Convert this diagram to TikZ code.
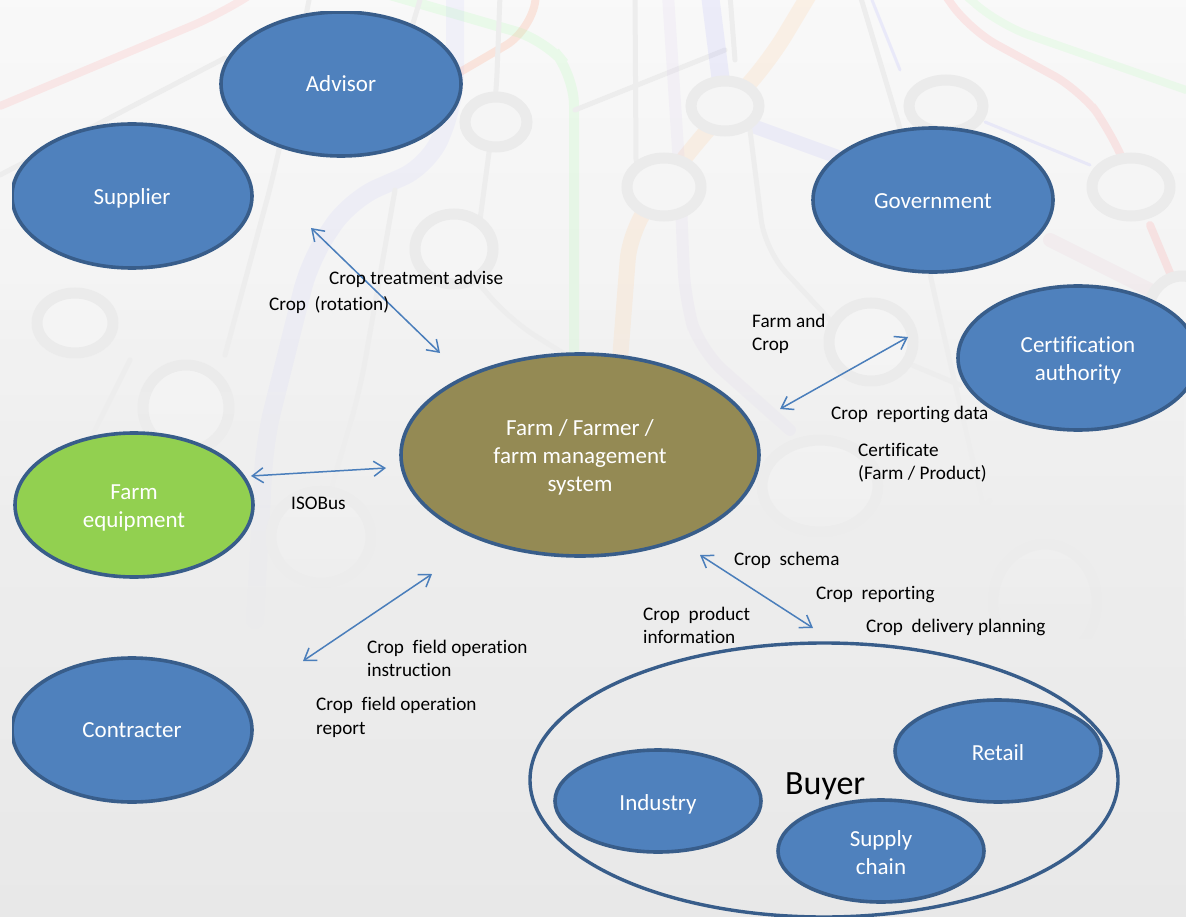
\documentclass[tikz,border=0pt]{standalone}
\usepackage{fontspec}
\setmainfont{Carlito}[RawFeature={-liga}]
\usetikzlibrary{shapes.geometric,arrows.meta,fadings}
\definecolor{blueF}{HTML}{4F81BD}
\definecolor{blueL}{HTML}{385D8A}
\definecolor{oliveF}{HTML}{948A54}
\definecolor{greenF}{HTML}{92D050}
\definecolor{arrowC}{HTML}{4A7EBB}
\newcommand\dn[2]{\raisebox{-#1pt}[\height][\depth]{#2}}
\tikzfading[name=fadeDown, top color=transparent!100, bottom color=transparent!0]
\tikzset{
  x=1pt,y=-1pt,
  oval/.style={ellipse,draw=blueL,line width=3.6pt,fill=blueF,text=white,inner sep=0pt,align=center,
    font=\fontsize{23}{28}\selectfont},
  big/.style={oval,minimum width=240pt,minimum height=144pt},
  small/.style={oval,minimum width=206pt,minimum height=102pt},
  dbl/.style={draw=arrowC,line width=1.5pt,{Straight Barb[length=11pt,width=15pt,line width=1.5pt]}-{Straight Barb[length=11pt,width=15pt,line width=1.5pt]}},
  lab/.style={anchor=base west,inner sep=0pt,text=black,font=\fontsize{19.2}{23}\selectfont},
  metro/.style={draw=black!7,line width=5pt,rounded corners=30pt,line cap=round},
  ring/.style={draw=black!8,fill=white!96!black,line width=11pt},
}
\begin{document}
\begin{tikzpicture}
\useasboundingbox (0,0) rectangle (1186,917);
\clip (0,0) rectangle (1186,917);
% background
\shade[top color=white!97.5!black,bottom color=white!91!black] (0,0) rectangle (1186,917);
% metro lines
\draw[metro,draw=red!35!white,opacity=.2,line width=8pt] (0,106) -- (220,14) -- (250,-5);
\draw[metro,draw=orange!50!red!45!white,opacity=.25,line width=8pt] (455,75) -- (532,30) -- (536,-5);
\draw[metro,draw=green!35!white,opacity=.18,line width=10pt] (390,-5) -- (545,40) -- (574,75) -- (574,400);
\draw[metro,draw=blue!35!white,opacity=.09,line width=18pt] (455,-5) -- (455,100) -- (430,165) -- (350,200) -- (310,260) -- (265,440) -- (255,620);
\draw[metro] (0,175) -- (225,58);
\draw[metro] (310,-5) -- (275,170) -- (225,355);
\draw[metro] (0,598) -- (140,445);
\draw[metro] (420,0) -- (405,50);
\draw[metro] (500,-5) -- (496,100) -- (480,220);
\draw[metro] (395,190) -- (360,390) -- (325,510);
\draw[metro] (480,285) -- (510,320) -- (574,360) -- (640,400);
\draw[metro] (635,-5) -- (636,160);
\draw[metro] (575,110) -- (725,50);
\draw[metro] (130,360) -- (30,560);
\draw[metro,draw=orange!40!white,opacity=.2,line width=16pt] (809,-5) -- (770,60) -- (690,150) -- (630,230) -- (620,360);
\draw[metro,draw=red!30!blue!30!white,opacity=.1,line width=12pt] (668,-5) -- (680,180) -- (685,300) -- (700,350) -- (790,430);
\draw[metro,draw=blue!50!white,opacity=.1,line width=18pt] (710,-5) -- (722,90);
\draw[metro,draw=blue!50!white,opacity=.09,line width=14pt] (750,125) -- (860,165);
\draw[metro] (730,-5) -- (735,60);
\draw[metro] (860,-5) -- (905,145) -- (930,275) -- (1005,600);
\draw[metro] (750,130) -- (765,250) -- (830,320);
\draw[metro] (900,360) -- (960,385);
\draw[metro,draw=blue!40!white,opacity=.15,line width=3pt] (872,0) -- (900,70);
\draw[metro,draw=blue!40!white,opacity=.15,line width=3pt] (985,122) -- (1090,165);
\draw[metro,draw=red!40!white,opacity=.2,line width=8pt] (945,-5) -- (970,30) -- (1080,90) -- (1110,130) -- (1125,165);
\draw[metro,draw=red!40!white,opacity=.2,line width=8pt] (1150,225) -- (1175,285);
\draw[metro,draw=green!35!white,opacity=.15,line width=8pt] (965,-5) -- (1000,25) -- (1186,90);
\draw[metro,draw=blue!30!red!35!white,opacity=.1,line width=14pt] (1050,240) -- (1150,290);
\draw[metro] (990,500) -- (960,540);
\foreach \cx/\cy/\rx/\ry in {496/122/31/25,454/249/39/35,75/323/38/30,186/408/43/43,725/106/34/25,664/187/37/29,
  946/106/37/26,1131/187/39/29,871/342/42/39,1182/314/34/38,820/486/58/46,1045/602/52/58,321/537/50/46}
  \draw[ring] (\cx,\cy) ellipse [x radius=\rx,y radius=\ry];
% fade-out towards the lower part
\shade[top color=white!94!black,bottom color=white!92.5!black,path fading=fadeDown] (0,310) rectangle (1186,640);
\shade[top color=white!92.5!black,bottom color=white!91!black] (0,639) rectangle (1186,917);
% shapes
\begin{scope}
\clip (12,12) rectangle (1186,917);
\node[big] (advisor) at (341,84) {Advisor};
\node[big] (supplier) at (132,196) {\dn{2}{Supplier}};
\node[big] (contracter) at (132,730) {Contracter};
\end{scope}
\node[big] (government) at (933,200) {\dn{1}{Government}};
\node[big] (cert) at (1078,358) {\dn{2}{Certification}\\\dn{2}{authority}};
\node[big,fill=greenF,minimum width=238pt] (equipment) at (134,505) {\dn{3}{Farm}\\\dn{3}{equipment}};
\node[oval,fill=oliveF,minimum width=358pt,minimum height=202pt] (farm) at (580,455) {\dn{2}{Farm / Farmer /}\\\dn{2}{farm management}\\\dn{2}{system}};
\node[ellipse,draw=blueL,line width=3.4pt,minimum width=588pt,minimum height=274pt,inner sep=0pt] (buyerring) at (824,780) {};
\node[small] (retail) at (998,751) {\dn{2}{Retail}};
\node[small] (industry) at (658,801) {\dn{3}{Industry}};
\node[small] (supply) at (881,851) {\dn{2}{Supply}\\\dn{2}{chain}};
\node[anchor=base west,inner sep=0pt,font=\fontsize{34}{36}\selectfont] (buyer) at (785,794) {Buyer};
% connector ends
\coordinate (a1) at (311,228); \coordinate (a2) at (440,353);
\coordinate (b1) at (251,476); \coordinate (b2) at (386,468);
\coordinate (c1) at (303,661); \coordinate (c2) at (432,574);
\coordinate (d1) at (780,409); \coordinate (d2) at (908,337);
\coordinate (e1) at (700,555); \coordinate (e2) at (813,628);
\draw[dbl] (a1) -- (a2);
\draw[dbl] (b1) -- (b2);
\draw[dbl] (c1) -- (c2);
\draw[dbl] (d1) -- (d2);
\draw[dbl] (e1) -- (e2);
% labels
\node[lab] (l1) at (329,285) {Crop treatment advise};
\node[lab] (l2) at (269,311) {Crop\ \ (rotation)};
\node[lab] (l3) at (752,327) {Farm and};
\node[lab] (l4) at (752,350) {Crop};
\node[lab] (l5) at (831,419) {Crop\ \ reporting data};
\node[lab] (l6) at (858,456) {Certificate};
\node[lab] (l7) at (858,479) {(Farm / Product)};
\node[lab] (l8) at (291,509) {ISOBus};
\node[lab] (l9) at (734,565) {Crop\ \ schema};
\node[lab] (l10) at (816,599) {Crop\ \ reporting};
\node[lab] (l11) at (866,632) {Crop\ \ delivery planning};
\node[lab] (l12) at (643,620) {Crop\ \ product};
\node[lab] (l13) at (643,643) {information};
\node[lab] (l14) at (367,653) {Crop\ \ field operation};
\node[lab] (l15) at (367,676) {instruction};
\node[lab] (l16) at (316,710) {Crop\ \ field operation};
\node[lab] (l17) at (316,734) {report};
\end{tikzpicture}
\end{document}
